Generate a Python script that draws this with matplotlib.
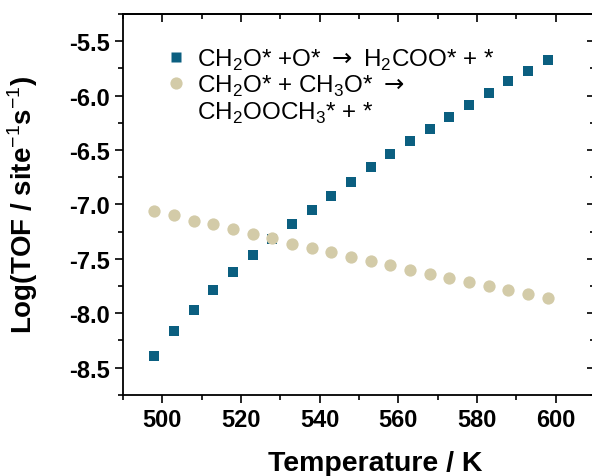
import matplotlib.pyplot as plt
from matplotlib.lines import Line2D
from matplotlib.ticker import MultipleLocator, NullFormatter

plt.rcParams['font.family'] = ['Liberation Sans', 'DejaVu Sans']
plt.rcParams['mathtext.fontset'] = 'custom'
plt.rcParams['mathtext.rm'] = 'Liberation Sans'
plt.rcParams['mathtext.bf'] = 'Liberation Sans:bold'
plt.rcParams['mathtext.sf'] = 'DejaVu Sans'

# temperatures (K)
temp = [498, 503, 508, 513, 518, 523, 528, 533, 538, 543, 548,
        553, 558, 563, 568, 573, 578, 583, 588, 593, 598]
# log TOF, CH2O* + O* -> H2COO* + *
tof_h2coo = [-8.39, -8.16, -7.97, -7.79, -7.62, -7.47, -7.32, -7.18, -7.05, -6.92, -6.79,
             -6.66, -6.54, -6.42, -6.31, -6.20, -6.09, -5.98, -5.87, -5.77, -5.67]
# log TOF, CH2O* + CH3O* -> CH2OOCH3* + *
tof_ch2oooch3 = [-7.06, -7.10, -7.15, -7.18, -7.23, -7.27, -7.31, -7.36, -7.40, -7.44, -7.48,
                 -7.52, -7.56, -7.60, -7.64, -7.68, -7.71, -7.75, -7.79, -7.82, -7.86]

blue = '#0b5f80'
beige = '#d3cba8'

fig = plt.figure(figsize=(5.92, 4.77), dpi=100)
ax = fig.add_axes([0.2078, 0.1704, 0.797, 0.7982])

ax.scatter(temp, tof_h2coo, marker='s', s=52, color=blue, linewidths=0, zorder=2)
ax.scatter(temp, tof_ch2oooch3, marker='o', s=78, color=beige, linewidths=0, zorder=3)

ax.set_xlim(490, 610)
ax.set_ylim(-8.75, -5.25)
ax.xaxis.set_major_locator(MultipleLocator(20))
ax.xaxis.set_minor_locator(MultipleLocator(10))
ax.yaxis.set_major_locator(MultipleLocator(0.5))
ax.yaxis.set_minor_locator(MultipleLocator(0.25))
ax.tick_params(which='both', direction='out', width=1.2, labelsize=17)
ax.tick_params(which='major', length=6)
ax.tick_params(which='minor', length=3.5)
for lab in ax.get_xticklabels() + ax.get_yticklabels():
    lab.set_fontweight('bold')
ax.yaxis.set_major_formatter(plt.FuncFormatter(lambda v, p: '%.1f' % v))
for sp in ax.spines.values():
    sp.set_linewidth(1.3)

# top and right ticks pointing inwards
top = ax.secondary_xaxis('top')
right = ax.secondary_yaxis('right')
top.xaxis.set_major_locator(MultipleLocator(20))
top.xaxis.set_minor_locator(MultipleLocator(10))
right.yaxis.set_major_locator(MultipleLocator(0.5))
right.yaxis.set_minor_locator(MultipleLocator(0.25))
for sec in (top, right):
    sec.tick_params(which='both', direction='in', width=1.2)
    sec.tick_params(which='major', length=6)
    sec.tick_params(which='minor', length=3.5)
    sec.spines[:].set_linewidth(1.3)
top.xaxis.set_major_formatter(NullFormatter())
right.yaxis.set_major_formatter(NullFormatter())

ax.set_xlabel('Temperature / K', fontsize=20.5, fontweight='bold', labelpad=14)
ax.xaxis.label.set_x(0.534)
ax.set_ylabel(r'Log(TOF / site$^{-1}$s$^{-1}$)', fontsize=20,
              fontweight='bold', labelpad=21)

arrow = r'$\mathsf{\rightarrow}$'
handles = [
    Line2D([], [], ls='', marker='s', ms=7.2, mfc=blue, mec='none'),
    Line2D([], [], ls='', marker='o', ms=8.8, mfc=beige, mec='none'),
    Line2D([], [], ls='', marker=''),
]
labels = [
    'CH$_2$O* +O* ' + arrow + ' H$_2$COO* + *',
    'CH$_2$O* + CH$_3$O* ' + arrow,
    'CH$_2$OOCH$_3$* + *',
]
ax.legend(handles, labels, loc='upper left', bbox_to_anchor=(0.072, 0.94), frameon=False,
          fontsize=17.5, handlelength=0.8, handletextpad=0.45, labelspacing=0.05,
          borderaxespad=0)

fig.savefig('out.png', dpi=100)
